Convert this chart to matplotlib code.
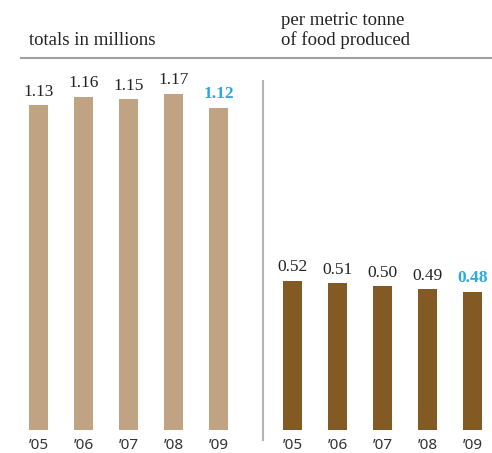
import matplotlib
matplotlib.use("Agg")
import matplotlib.pyplot as plt
from matplotlib.lines import Line2D

plt.rcParams['font.family'] = ['Liberation Serif', 'DejaVu Serif']

years = ["\u201905", "\u201906", "\u201907", "\u201908", "\u201909"]
totals = [1.13, 1.16, 1.15, 1.17, 1.12]
per_tonne = [0.52, 0.51, 0.50, 0.49, 0.48]
total_labels = ["1.13", "1.16", "1.15", "1.17", "1.12"]
tonne_labels = ["0.52", "0.51", "0.50", "0.49", "0.48"]

W, H = 492, 453
tan = "#C0A383"
brown = "#845A24"
blue = "#29ABE2"

fig = plt.figure(figsize=(W / 100, H / 100), dpi=100)


def px_axes(x0, x1, y_top, y_bot):
    return fig.add_axes([x0 / W, 1 - y_bot / H, (x1 - x0) / W, (y_bot - y_top) / H])


def draw_panel(ax, values, labels, color, xmax):
    x = range(len(values))
    ax.bar(x, values, width=0.42, color=color)
    ax.set_xlim(-0.5, xmax)
    ax.set_ylim(0, 360 / 287.5)
    ax.set_xticks(list(x))
    ax.set_xticklabels(years, fontsize=11, color="#333333", family="Noto Sans")
    ax.tick_params(axis="x", length=0, pad=5.5)
    ax.set_yticks([])
    for s in ax.spines.values():
        s.set_visible(False)
    for i, (v, lab) in enumerate(zip(values, labels)):
        last = i == len(values) - 1
        ax.annotate(lab, (i, v), xytext=(0, 4), textcoords="offset points",
                    ha="center", va="bottom", fontsize=12.5,
                    color=blue if last else "#222222",
                    fontweight="bold" if last else "normal")


ax1 = px_axes(16, 241, 70, 430)
draw_panel(ax1, totals, total_labels, tan, 4.5)

ax2 = px_axes(270, 492, 70, 430)
draw_panel(ax2, per_tonne, tonne_labels, brown, 4.433)

# header rule and panel divider
fig.add_artist(Line2D([21 / W, 1], [1 - 57.5 / H] * 2, color="#A0A0A0", lw=1.5))
fig.add_artist(Line2D([263 / W] * 2, [1 - 81 / H, 1 - 440 / H], color="#B5B5B5", lw=1.5))

fig.text(29 / W, 1 - 45 / H, "totals in millions", fontsize=13.5,
         color="#222222", va="baseline")
fig.text(281 / W, 1 - 25 / H, "per metric tonne", fontsize=13.5,
         color="#222222", va="baseline")
fig.text(281 / W, 1 - 45 / H, "of food produced", fontsize=13.5,
         color="#222222", va="baseline")

fig.savefig("out.png", dpi=100)
